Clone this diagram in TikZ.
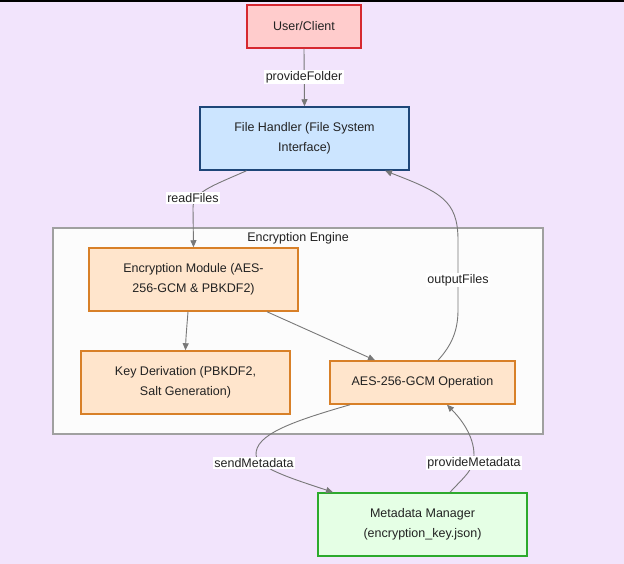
\documentclass[tikz,border=0pt]{standalone}
\usepackage{fontspec}
\setmainfont{Liberation Sans}
\usetikzlibrary{arrows.meta,calc}
\definecolor{bgc}{RGB}{242,228,252}
\definecolor{userfill}{RGB}{255,204,204}
\definecolor{userdraw}{RGB}{214,40,48}
\definecolor{fhfill}{RGB}{204,229,255}
\definecolor{fhdraw}{RGB}{30,70,120}
\definecolor{orfill}{RGB}{255,229,204}
\definecolor{ordraw}{RGB}{216,128,40}
\definecolor{mmfill}{RGB}{229,255,229}
\definecolor{mmdraw}{RGB}{44,170,44}
\definecolor{clfill}{RGB}{252,252,252}
\definecolor{cldraw}{RGB}{160,160,160}
\definecolor{edgec}{RGB}{120,120,120}
\definecolor{txt}{RGB}{34,34,34}
\tikzset{
  box/.style={draw, line width=1.5pt, inner sep=0pt, align=center, text=txt,
    font=\fontsize{12.5}{20}\selectfont},
  twoline/.style={box, minimum width=209pt, minimum height=63pt},
  edge/.style={draw=edgec, line width=0.9pt, -{Triangle[length=7pt,width=6pt]}},
  elabel/.style={fill=white, inner sep=1.5pt, text=txt, font=\fontsize{12.5}{15}\selectfont}
}
\begin{document}
\begin{tikzpicture}[x=1pt,y=-1pt]
\useasboundingbox (0,0) rectangle (624,564);
\fill[bgc] (0,0) rectangle (624,564);
\fill[black] (0,0) rectangle (624,2);
% cluster
\node[draw=cldraw, fill=clfill, line width=1.2pt, minimum width=490pt, minimum height=206pt, inner sep=0pt] (cl) at (298,331) {};
\node[text=txt, font=\fontsize{12.5}{15}\selectfont] (cltitle) at (298,238) {Encryption Engine};
% nodes
\node[box, fill=userfill, draw=userdraw, minimum width=114pt, minimum height=43pt] (user) at (304,26.5) {User/Client};
\node[twoline, fill=fhfill, draw=fhdraw] (fh) at (304.5,138.5) {File Handler (File System\\Interface)};
\node[twoline, fill=orfill, draw=ordraw] (em) at (193.5,279.5) {Encryption Module (AES-\\256-GCM \& PBKDF2)};
\node[twoline, fill=orfill, draw=ordraw] (kd) at (185.5,382.5) {Key Derivation (PBKDF2,\\Salt Generation)};
\node[box, fill=orfill, draw=ordraw, minimum width=185pt, minimum height=43pt] (aes) at (422.5,382.5) {AES-256-GCM Operation};
\node[twoline, fill=mmfill, draw=mmdraw] (mm) at (422.5,524.5) {Metadata Manager\\(encryption\_key.json)};
% edges
\draw[edge] (user.south) -- (fh.north);
\draw[edge] ($(fh.south)+(-58,0)$) .. controls (212,186) and (193,192) .. (193,208) -- (em.north);
\draw[edge] ($(aes.north)+(15.5,0)$) .. controls (452,345) and (458,330) .. (458,310) -- (458,240) .. controls (458,200) and (440,192) .. ($(fh.south)+(80.5,0)$);
\draw[edge] ($(em.south)+(-5.5,0)$) .. controls (187,325) and (186,335) .. (kd.north);
\draw[edge] ($(em.south)+(73.5,0)$) -- ($(aes.north)+(-47.5,0)$);
\draw[edge] ($(aes.south)+(-72.5,0)$) .. controls (290,422) and (255,435) .. (256,455) .. controls (258,468) and (290,478) .. ($(mm.north)+(-89.5,0)$);
\draw[edge] ($(mm.north)+(27.5,0)$) .. controls (465,476) and (474,470) .. (474,455) .. controls (474,435) and (460,418) .. ($(aes.south)+(24.5,0)$);
% labels
\node[elabel] (l1) at (304,77) {provideFolder};
\node[elabel] (l2) at (193,198) {readFiles};
\node[elabel] (l3) at (458,280) {outputFiles};
\node[elabel] (l4) at (254,463) {sendMetadata};
\node[elabel] (l5) at (474,463) {provideMetadata};
\end{tikzpicture}
\end{document}
